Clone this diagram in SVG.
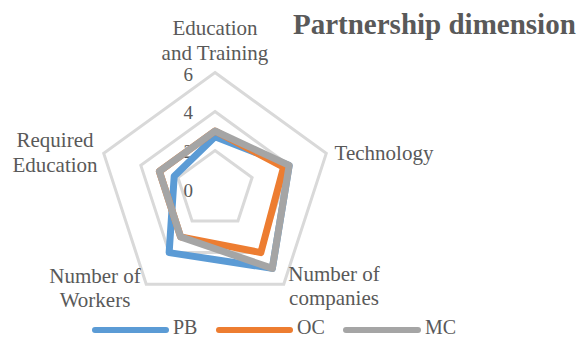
<svg xmlns="http://www.w3.org/2000/svg" width="583" height="338" viewBox="0 0 583 338">
<style>
text{font-family:"Liberation Serif","Times New Roman",serif;fill:#595959}
.lab{font-size:21px;text-anchor:middle}
.val{font-size:19px;text-anchor:end}
.title{font-size:29px;font-weight:bold}
.legt{font-size:20px}
.grid{fill:none;stroke:#D9D9D9;stroke-width:3;stroke-linejoin:miter}
.ser{fill:none;stroke-width:7;stroke-linejoin:round}
.leg{stroke-width:6;stroke-linecap:round}
</style>
<rect width="583" height="338" fill="#fff"/>
<g id="grid">
<polygon class="grid" points="215,72.5 326.27,153.34 283.77,284.16 146.23,284.16 103.73,153.34"/>
<polygon class="grid" points="215,111.5 289.18,165.4 260.85,252.6 169.15,252.6 140.82,165.4"/>
<polygon class="grid" points="215,150.5 252.09,177.45 237.92,221.05 192.08,221.05 177.91,177.45"/>
</g>
<g id="axis-values">
<text class="val" x="193" y="81">6</text>
<text class="val" x="193" y="119">4</text>
<text class="val" x="193" y="158">2</text>
<text class="val" x="193" y="197">0</text>
</g>
<g id="series">
<polygon id="PB" class="ser" stroke="#5B9BD5" points="215,136.85 289.18,165.4 272.31,268.38 169.15,252.6 174.2,176.24"/>
<polygon id="OC" class="ser" stroke="#ED7D31" points="215,131 283.62,167.2 260.85,252.6 180.61,236.83 159.36,171.42"/>
<polygon id="MC" class="ser" stroke="#A5A5A5" points="215,131 289.18,165.4 272.31,268.38 180.61,236.83 159.36,171.42"/>
</g>
<g id="axis-labels">
<text class="lab" x="215" y="35">Education</text>
<text class="lab" x="215" y="60">and Training</text>
<text class="lab" x="384" y="160">Technology</text>
<text class="lab" x="334" y="281">Number of</text>
<text class="lab" x="334" y="305">companies</text>
<text class="lab" x="95" y="283">Number of</text>
<text class="lab" x="95" y="307">Workers</text>
<text class="lab" x="55" y="147">Required</text>
<text class="lab" x="55" y="172">Education</text>
</g>
<text class="title" x="293" y="34">Partnership dimension</text>
<g id="legend">
<line class="leg" x1="95" y1="330" x2="166" y2="330" stroke="#5B9BD5"/>
<text class="legt" x="173" y="334">PB</text>
<line class="leg" x1="219" y1="330" x2="290" y2="330" stroke="#ED7D31"/>
<text class="legt" x="297" y="334">OC</text>
<line class="leg" x1="346" y1="330" x2="418" y2="330" stroke="#A5A5A5"/>
<text class="legt" x="425" y="334">MC</text>
</g>
</svg>
